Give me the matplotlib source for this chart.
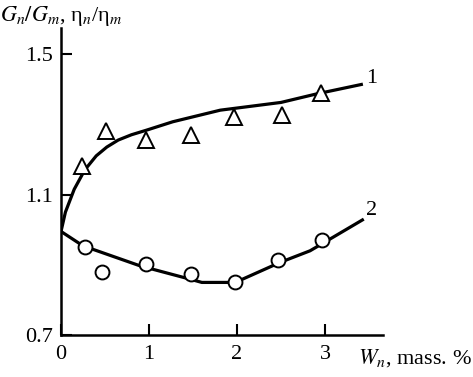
import numpy as np
import matplotlib.pyplot as plt

plt.rcParams['font.family'] = ['Liberation Serif', 'DejaVu Serif']
plt.rcParams['mathtext.fontset'] = 'stix'

# curve 1 (G_n/G_m) and its triangle points
line1_x = [0, 0.05, 0.15, 0.27, 0.4, 0.52, 0.65, 0.8, 0.97, 1.27, 1.81, 2.5, 2.9, 3.43]
line1_y = [0.995, 1.05, 1.115, 1.17, 1.21, 1.235, 1.255, 1.27, 1.283, 1.307, 1.34, 1.362, 1.386, 1.414]
tri_x = [0.24, 0.51, 0.97, 1.48, 1.96, 2.51, 2.95]
tri_y = [1.18, 1.28, 1.256, 1.27, 1.32, 1.326, 1.388]

# curve 2 (eta_n/eta_m) and its circle points
line2_x = [0, 0.25, 0.9, 1.47, 1.6, 1.98, 2.49, 2.83, 3.44]
line2_y = [0.995, 0.954, 0.897, 0.859, 0.85, 0.85, 0.907, 0.94, 1.03]
circ_x = [0.27, 0.46, 0.97, 1.48, 1.98, 2.47, 2.96]
circ_y = [0.951, 0.88, 0.902, 0.875, 0.851, 0.913, 0.971]

xticks = [0, 1, 2, 3]
yticks = [0.7, 1.1, 1.5]

fig = plt.figure(figsize=(4.73, 3.77), dpi=100)
ax = fig.add_axes([0.129, 0.111, 0.681, 0.815])

ax.plot(line1_x, line1_y, color='black', lw=2.3, solid_capstyle='butt')
ax.plot(line2_x, line2_y, color='black', lw=2.3, solid_capstyle='butt')
ax.plot(tri_x, tri_y, ls='none', marker='^', ms=11, mfc='white', mec='black', mew=1.4)
ax.plot(circ_x, circ_y, ls='none', marker='o', ms=10, mfc='white', mec='black', mew=1.4)

ax.text(3.47, 1.43, '1', fontsize=16, ha='left', va='center')
ax.text(3.47, 1.054, '2', fontsize=16, ha='left', va='center')

ax.set_xlim(0, 3.66)
ax.set_ylim(0.7, 1.574)
ax.set_xticks(xticks)
ax.set_xticklabels([str(v) for v in xticks], fontsize=16)
ax.set_yticks(yticks)
ax.set_yticklabels([str(v) for v in yticks], fontsize=16)
ax.tick_params(direction='in', length=8, width=1.5)
ax.tick_params(axis='x', pad=7)
ax.tick_params(axis='y', pad=6)
ax.spines['top'].set_visible(False)
ax.spines['right'].set_visible(False)
for s in ['left', 'bottom']:
    ax.spines[s].set_linewidth(1.8)

fig.text(0.0, 0.99, r'$G_n/G_m$, η$_n$/η$_m$', fontsize=16, ha='left', va='top')
fig.text(0.998, 0.02, r'$W_n$, mass. %', fontsize=16, ha='right', va='bottom')

fig.savefig('out.png', dpi=100)
